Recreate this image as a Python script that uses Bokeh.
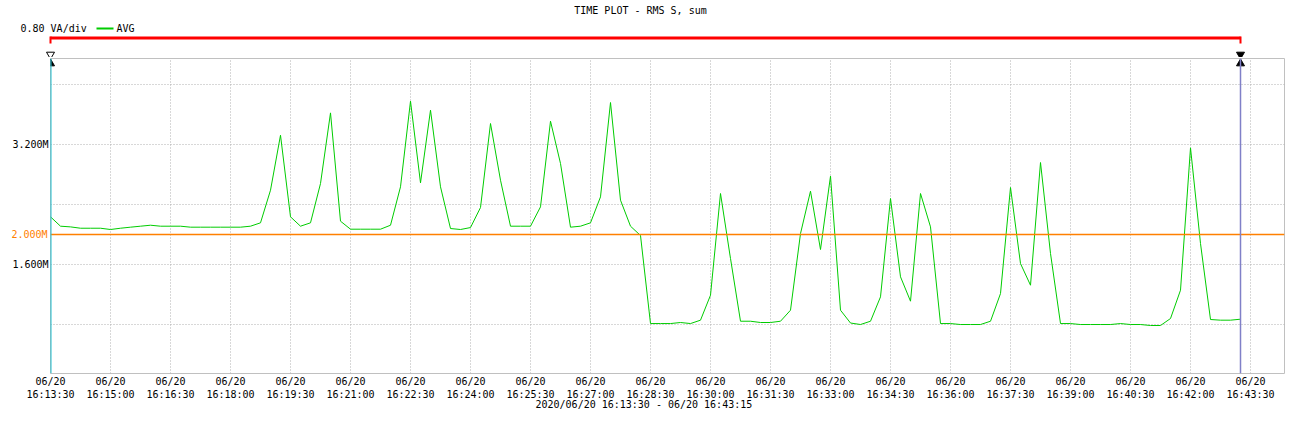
import pandas as pd
from bokeh.plotting import figure
from bokeh.layouts import column
from bokeh.models import (FixedTicker, DatetimeTickFormatter, Span, Range1d, LinearAxis, Title, Plot)
from bokeh.core.properties import value
from bokeh.embed import file_html
from bokeh.resources import INLINE

# ---------------- data ----------------
title_text = "TIME PLOT - RMS  S, sum"
scale_text = "0.80 VA/div"
series_name = "AVG"
range_text = "2020/06/20 16:13:30 - 06/20 16:43:15"

start_time = "2020-06-20 16:13:30"
sample_seconds = 15
avg_mva = [
    2.236, 2.111, 2.102, 2.084, 2.084, 2.084, 2.067, 2.084, 2.098, 2.111,
    2.124, 2.111, 2.111, 2.111, 2.098, 2.098, 2.098, 2.098, 2.098, 2.098,
    2.111, 2.156, 2.591, 3.324, 2.236, 2.111, 2.156, 2.680, 3.622, 2.178,
    2.071, 2.071, 2.071, 2.071, 2.124, 2.636, 3.778, 2.689, 3.658, 2.636,
    2.080, 2.067, 2.093, 2.360, 3.480, 2.724, 2.111, 2.111, 2.111, 2.369,
    3.511, 2.947, 2.098, 2.111, 2.156, 2.502, 3.760, 2.458, 2.111, 1.987,
    0.813, 0.813, 0.813, 0.827, 0.813, 0.858, 1.191, 2.547, 1.680, 0.844,
    0.844, 0.827, 0.827, 0.844, 0.991, 2.013, 2.578, 1.800, 2.778, 0.991,
    0.820, 0.800, 0.844, 1.169, 2.480, 1.436, 1.111, 2.547, 2.102, 0.813,
    0.813, 0.800, 0.800, 0.800, 0.844, 1.213, 2.627, 1.613, 1.324, 2.960,
    1.747, 0.813, 0.813, 0.800, 0.800, 0.800, 0.800, 0.813, 0.800, 0.800,
    0.787, 0.787, 0.880, 1.258, 3.156, 1.880, 0.867, 0.858, 0.858, 0.871,
]

x_tick_start = "2020-06-20 16:13:30"
x_tick_end = "2020-06-20 16:43:30"
x_tick_step = "90s"
y_ticks = [3.2, 1.6]
y_tick_labels = ["3.200M", "1.600M"]
y_grid_values = [0.8, 1.6, 2.4, 3.2, 4.0]
y_min, y_max = 0.147, 4.347
threshold_value = 2.0
threshold_label = "2.000M"
cursor_start = "2020-06-20 16:13:30"
cursor_end = "2020-06-20 16:43:15"

# ---------------- layout constants ----------------
W = 1289
TOP_H = 57
MAIN_H = 364
LEFT_B, RIGHT_B, BOTTOM_B = 50, 5, 48
SEC_PER_PX = 1.5

MONO = "DejaVu Sans Mono"
GREEN = "#00cc00"
ORANGE = "#ff8000"
RED = "#ff0000"
GRID = "#b0b0b0"


def ms(ts):
    return pd.Timestamp(ts).value / 1e6


t0 = ms(start_time)


def t_plus(seconds):
    return t0 + seconds * 1000.0


times = pd.date_range(start_time, periods=len(avg_mva), freq=f"{sample_seconds}s")
x_ticks = [ms(t) for t in pd.date_range(x_tick_start, x_tick_end, freq=x_tick_step)]
c0, c1 = ms(cursor_start), ms(cursor_end)

main_x_range = Range1d(t0, t_plus((W - RIGHT_B - LEFT_B) * SEC_PER_PX))

# ---------------- top strip (title, legend, cursor bracket) ----------------
can_unalign = "frame_align" in Plot.properties()
if can_unalign:
    top_x_range = Range1d(t_plus(-LEFT_B * SEC_PER_PX), t_plus((W - LEFT_B) * SEC_PER_PX))
else:
    top_x_range = main_x_range

top = figure(width=W, height=TOP_H, title=None,
             x_range=top_x_range, y_range=Range1d(TOP_H, 0),
             x_axis_location=None, y_axis_location=None,
             min_border=0, min_border_left=0, min_border_right=0, min_border_top=0, min_border_bottom=0,
             toolbar_location=None, output_backend="svg")
if can_unalign:
    top.frame_align = False
top.outline_line_color = None
top.grid.visible = False
top.background_fill_color = "white"
top.border_fill_color = "white"

top.text(x=[t_plus((643 - LEFT_B) * SEC_PER_PX)], y=[10], text=[title_text],
         text_align="center", text_baseline="middle", text_font=value(MONO),
         text_font_size="10px", text_color="black")
top.text(x=[t_plus(-45)], y=[28], text=[scale_text], text_align="left", text_baseline="middle",
         text_font=value(MONO), text_font_size="10px", text_color="black")
top.segment(x0=[t_plus(69)], y0=[28], x1=[t_plus(94.5)], y1=[28], line_color=GREEN, line_width=2)
top.text(x=[t_plus(99)], y=[28], text=[series_name], text_align="left", text_baseline="middle",
         text_font=value(MONO), text_font_size="10px", text_color="black")

# red bracket between cursors
top.segment(x0=[c0], y0=[37.5], x1=[c1], y1=[37.5], line_color=RED, line_width=3)
top.segment(x0=[c0, c1], y0=[36, 36], x1=[c0, c1], y1=[43, 43], line_color=RED, line_width=2)
# cursor heads
top.scatter(x=[c0], y=[54], marker="inverted_triangle", size=8,
            fill_color="white", line_color="black", line_width=1)
top.scatter(x=[c1], y=[54], marker="inverted_triangle", size=8,
            fill_color="black", line_color="black", line_width=1)

# ---------------- main chart ----------------
p = figure(width=W, height=MAIN_H, title=None, x_axis_type="datetime",
           x_range=main_x_range, y_range=Range1d(y_min, y_max),
           min_border_left=LEFT_B, min_border_right=RIGHT_B, min_border_top=1,
           min_border_bottom=BOTTOM_B,
           toolbar_location=None, output_backend="svg")
p.background_fill_color = "white"
p.border_fill_color = "white"
p.outline_line_color = "#c0c0c0"
p.outline_line_width = 1

fmt = "%m/%d\n%H:%M:%S"
p.xaxis.ticker = FixedTicker(ticks=x_ticks)
p.xaxis.formatter = DatetimeTickFormatter(
    microseconds=fmt, milliseconds=fmt, seconds=fmt, minsec=fmt, minutes=fmt,
    hourmin=fmt, hours=fmt, days=fmt, months=fmt, years=fmt)
p.yaxis.ticker = FixedTicker(ticks=y_ticks)
p.yaxis.major_label_overrides = {v: s for v, s in zip(y_ticks, y_tick_labels)}

# orange threshold label as an outer, zero-width left axis
thr_axis = LinearAxis(ticker=FixedTicker(ticks=[threshold_value]),
                      major_label_overrides={threshold_value: threshold_label})
p.add_layout(thr_axis, "left")

for ax in (p.xaxis[0], p.yaxis[0], thr_axis):
    ax.axis_line_color = None
    ax.major_tick_line_color = None
    ax.minor_tick_line_color = None
    ax.major_tick_out = 0
    ax.major_tick_in = 0
    ax.major_label_text_font = MONO
    ax.major_label_text_font_size = "10px"
    ax.major_label_text_color = "black"
thr_axis.major_label_text_color = ORANGE
p.xaxis.major_label_standoff = 2
p.yaxis.major_label_standoff = 2
thr_axis.major_label_standoff = -38

p.xgrid.ticker = FixedTicker(ticks=x_ticks)
p.ygrid.ticker = FixedTicker(ticks=y_grid_values)
for g in (p.xgrid[0], p.ygrid[0]):
    g.grid_line_color = GRID
    g.grid_line_dash = "1 2"
    g.grid_line_width = 1

line = p.line(times, avg_mva, line_color=GREEN, line_width=1)

p.add_layout(Span(location=threshold_value, dimension="width", line_color=ORANGE, line_width=1.5))

# cursor feet and cursor lines
p.scatter(x=[c0, c1], y=[4.28, 4.28], marker="triangle", size=8,
          fill_color="black", line_color="black")
p.add_layout(Span(location=c0, dimension="height", line_color="#20c0d0", line_width=2))
p.add_layout(Span(location=c1, dimension="height", line_color="#8080c8", line_width=1.5))

p.add_layout(Title(text=range_text, align="left", offset=535 - LEFT_B, standoff=-8,
                   vertical_align="top",
                   text_font=MONO, text_font_size="10px", text_font_style="normal",
                   text_color="black"), "below")

open("out.html", "w").write(file_html(column(top, p), INLINE))
